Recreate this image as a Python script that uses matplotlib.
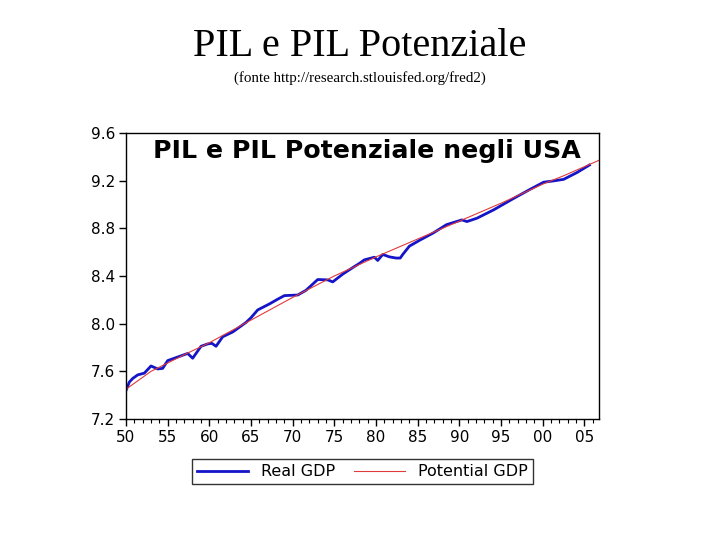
import matplotlib
matplotlib.use("Agg")
import matplotlib.pyplot as plt
from matplotlib.ticker import MultipleLocator
import numpy as np

# log real GDP, fractional years
real_years = [1950.0, 1950.4, 1950.8, 1951.4, 1952.2, 1953.0, 1953.8, 1954.4, 1955.0, 1955.8,
              1956.6, 1957.4, 1958.0, 1959.0, 1959.8, 1960.3, 1960.8, 1961.6, 1962.8, 1964.4,
              1965.0, 1965.8, 1967.2, 1968.2, 1969.0, 1970.6, 1971.6, 1973.0, 1974.2, 1974.8,
              1976.0, 1977.2, 1978.0, 1978.6, 1979.8, 1980.2, 1980.8, 1981.6, 1982.4, 1982.9,
              1983.2, 1984.0, 1985.25, 1986.85, 1988.45, 1990.3, 1990.9, 1992.1, 1994.1, 1996.5,
              1998.5, 2000.1, 2001.3, 2002.5, 2004.1, 2005.6]
real_gdp = [7.44, 7.51, 7.54, 7.57, 7.585, 7.645, 7.62, 7.625, 7.69, 7.71,
            7.73, 7.75, 7.71, 7.81, 7.83, 7.835, 7.81, 7.89, 7.93, 8.01,
            8.05, 8.115, 8.165, 8.205, 8.235, 8.24, 8.28, 8.37, 8.367, 8.35,
            8.415, 8.47, 8.505, 8.535, 8.557, 8.53, 8.58, 8.56, 8.55, 8.55,
            8.58, 8.65, 8.70, 8.76, 8.83, 8.87, 8.856, 8.884, 8.954, 9.05,
            9.127, 9.186, 9.197, 9.21, 9.267, 9.33]

# log potential GDP
pot_years = [1950, 1953, 1957, 1960, 1965, 1970, 1975, 1980, 1985, 1990, 1995, 2000, 2002.5, 2006.75]
pot_gdp = [7.45, 7.60, 7.74, 7.84, 8.03, 8.22, 8.40, 8.56, 8.71, 8.86, 9.01, 9.17, 9.24, 9.37]

x_tick_years = [1950, 1955, 1960, 1965, 1970, 1975, 1980, 1985, 1990, 1995, 2000, 2005]
x_tick_labels = ["50", "55", "60", "65", "70", "75", "80", "85", "90", "95", "00", "05"]
y_ticks = [7.2, 7.6, 8.0, 8.4, 8.8, 9.2, 9.6]

SANS = "DejaVu Sans"

fig = plt.figure(figsize=(7.2, 5.4), dpi=100)
ax = fig.add_axes([0.175, 0.224, 0.657, 0.530])

ax.plot(real_years, real_gdp, color="#1414c8", lw=2.0, label="Real GDP", solid_joinstyle="round")
ax.plot(pot_years, pot_gdp, color="#e03a3a", lw=0.8, label="Potential GDP")

ax.set_xlim(1950, 2006.75)
ax.set_ylim(7.2, 9.6)
ax.set_xticks(x_tick_years)
ax.set_xticklabels(x_tick_labels)
ax.xaxis.set_minor_locator(MultipleLocator(1))
ax.set_yticks(y_ticks)
ax.set_yticklabels(["%.1f" % v for v in y_ticks])
ax.tick_params(which="major", direction="out", length=5, width=1, labelsize=11, pad=3)
ax.tick_params(which="minor", direction="out", length=3, width=0.8)
for lab in ax.get_xticklabels() + ax.get_yticklabels():
    lab.set_family(SANS)
for s in ax.spines.values():
    s.set_linewidth(1)

ax.text(0.058, 0.978, "PIL e PIL Potenziale negli USA", transform=ax.transAxes,
        family=SANS, fontweight="bold", fontsize=18.2, va="top", ha="left")

leg = ax.legend(loc="upper center", bbox_to_anchor=(0.5, -0.113), ncol=2, frameon=True,
                fancybox=False, edgecolor="black", prop={"family": SANS, "size": 11.5},
                handlelength=3.2, columnspacing=1.2, borderpad=0.3)
leg.get_frame().set_linewidth(1)

fig.text(0.5, 0.913, "PIL e PIL Potenziale", ha="center", va="center",
         family="Liberation Serif", fontsize=29)
fig.text(0.5, 0.855, "(fonte http://research.stlouisfed.org/fred2)", ha="center", va="center",
         family="Liberation Serif", fontsize=10.8)

fig.savefig("out.png", dpi=100)
